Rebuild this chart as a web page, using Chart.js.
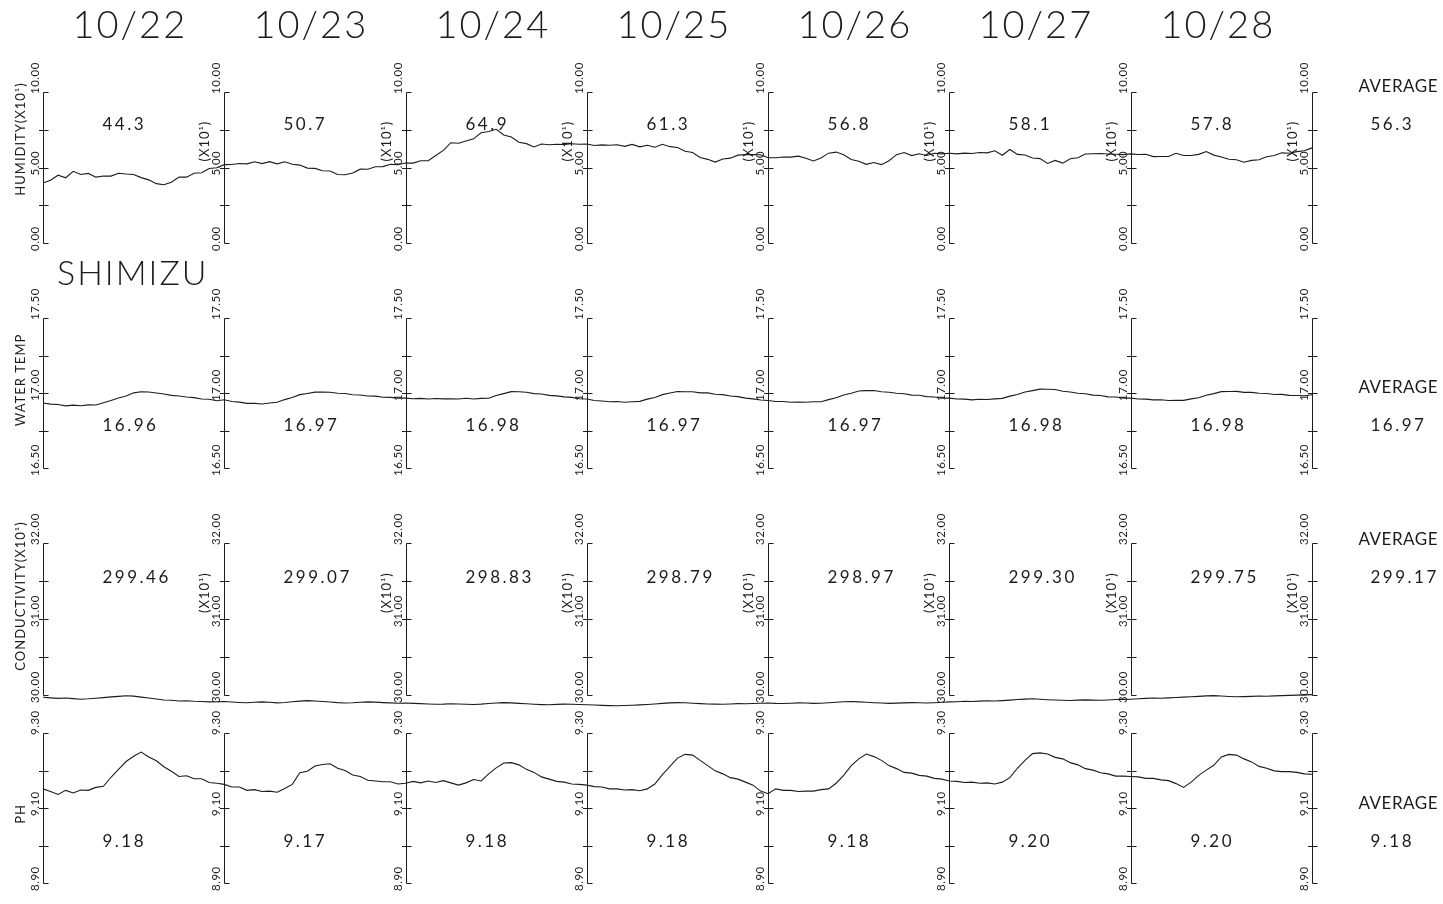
<!DOCTYPE html>
<html>
<head>
<meta charset="utf-8">
<script src="https://cdn.jsdelivr.net/npm/chart.js@4.4.1/dist/chart.umd.min.js"></script>
<style>
  html, body { margin: 0; padding: 0; background: #fff; overflow: hidden; }
  canvas { display: block; }
</style>
</head>
<body>
<canvas id="myChart" width="1443" height="904"></canvas>
<script>
// one day = 24 hourly readings, 7 days
const dates = ["10/22", "10/23", "10/24", "10/25", "10/26", "10/27", "10/28"];
const station = "SHIMIZU";

const humidity = [
  39.8, 41.6, 44.9, 43.2, 47.5, 45.4, 46.1, 43.6, 44.4, 44.3, 46.2, 45.7, 45.4, 43.3, 41.8, 39.3, 38.6, 40.2, 43.7, 43.6, 46.2, 46.5, 49.3, 49.8,
  51.9, 52.0, 52.6, 52.4, 53.8, 52.6, 53.9, 52.4, 53.8, 52.1, 51.6, 49.6, 49.4, 47.8, 47.7, 45.4, 45.2, 46.4, 48.9, 48.8, 50.5, 50.6, 52.1, 51.8,
  53.0, 52.9, 54.5, 54.5, 57.9, 61.3, 66.4, 66.1, 67.6, 69.0, 73.0, 73.8, 75.3, 71.5, 70.2, 66.7, 65.8, 63.6, 65.6, 65.1, 65.4, 65.2, 65.7, 65.4,
  65.6, 64.6, 65.0, 64.7, 65.1, 64.0, 65.3, 63.7, 64.7, 63.4, 65.4, 63.8, 63.2, 60.8, 59.9, 56.6, 55.4, 53.6, 55.6, 56.2, 58.2, 58.5, 58.6, 58.4,
  56.5, 56.5, 57.0, 56.9, 57.5, 56.1, 54.3, 56.3, 59.5, 60.2, 58.5, 55.3, 54.1, 52.1, 53.3, 51.9, 54.5, 58.5, 59.9, 57.9, 59.1, 58.0, 59.4, 59.0,
  59.4, 59.0, 59.5, 59.3, 59.9, 59.7, 61.1, 58.1, 61.9, 58.7, 58.3, 56.3, 55.9, 52.7, 54.7, 52.9, 55.8, 56.5, 58.9, 59.1, 59.3, 58.9, 58.8, 58.5,
  59.0, 58.6, 58.8, 57.2, 57.3, 57.3, 59.4, 57.9, 57.9, 58.7, 60.6, 58.2, 57.0, 55.5, 55.1, 53.5, 54.7, 55.1, 57.1, 57.9, 59.7, 59.4, 60.5, 61.1, 63.0
];

const waterTemp = [
  16.933, 16.926, 16.923, 16.914, 16.919, 16.915, 16.921, 16.920, 16.935, 16.950, 16.967, 16.980, 17.001, 17.008, 17.007, 17.000, 16.993, 16.984, 16.980, 16.973, 16.969, 16.960, 16.958, 16.948,
  16.955, 16.943, 16.939, 16.931, 16.931, 16.927, 16.933, 16.938, 16.956, 16.970, 16.989, 16.997, 17.006, 17.006, 17.005, 16.998, 16.997, 16.988, 16.987, 16.980, 16.979, 16.972, 16.971, 16.966,
  16.966, 16.962, 16.964, 16.960, 16.963, 16.961, 16.962, 16.960, 16.965, 16.960, 16.964, 16.965, 16.983, 16.996, 17.009, 17.008, 17.005, 16.996, 16.993, 16.984, 16.981, 16.974, 16.971, 16.962,
  16.960, 16.950, 16.947, 16.942, 16.943, 16.938, 16.942, 16.944, 16.959, 16.970, 16.989, 17.000, 17.010, 17.008, 17.008, 17.001, 17.001, 16.992, 16.989, 16.980, 16.976, 16.966, 16.961, 16.953,
  16.950, 16.943, 16.943, 16.938, 16.940, 16.938, 16.942, 16.942, 16.956, 16.968, 16.987, 16.998, 17.013, 17.016, 17.017, 17.008, 17.005, 16.998, 16.995, 16.986, 16.985, 16.976, 16.973, 16.966,
  16.966, 16.960, 16.959, 16.954, 16.958, 16.957, 16.961, 16.964, 16.979, 16.990, 17.007, 17.016, 17.026, 17.025, 17.023, 17.012, 17.007, 16.998, 16.995, 16.986, 16.983, 16.974, 16.973, 16.966,
  16.966, 16.960, 16.959, 16.954, 16.955, 16.950, 16.952, 16.951, 16.961, 16.968, 16.985, 16.996, 17.009, 17.010, 17.011, 17.004, 17.004, 16.998, 16.997, 16.990, 16.991, 16.984, 16.983, 16.982, 16.988
];

const conductivity = [
  299.70, 299.62, 299.55, 299.60, 299.52, 299.45, 299.50, 299.58, 299.66, 299.75, 299.82, 299.90, 299.85, 299.72, 299.60, 299.48, 299.35, 299.30, 299.22, 299.25, 299.18, 299.15, 299.10, 299.12,
  299.15, 299.08, 299.02, 298.98, 299.05, 299.10, 299.04, 298.97, 299.02, 299.12, 299.20, 299.26, 299.22, 299.15, 299.08, 299.00, 298.95, 298.98, 299.04, 299.10, 299.06, 299.00, 298.96, 298.92,
  298.95, 298.90, 298.86, 298.82, 298.78, 298.80, 298.85, 298.82, 298.78, 298.75, 298.80, 298.88, 298.95, 299.00, 298.96, 298.90, 298.84, 298.78, 298.74, 298.72, 298.76, 298.80, 298.78, 298.75,
  298.72, 298.68, 298.64, 298.60, 298.58, 298.62, 298.66, 298.70, 298.75, 298.82, 298.90, 298.96, 299.00, 298.98, 298.92, 298.86, 298.82, 298.80, 298.78, 298.82, 298.86, 298.84, 298.88, 298.92,
  298.95, 298.90, 298.88, 298.92, 298.96, 298.94, 298.90, 298.92, 298.98, 299.05, 299.12, 299.15, 299.10, 299.04, 298.98, 298.94, 298.90, 298.93, 298.97, 299.00, 298.98, 298.95, 298.99, 299.04,
  299.10, 299.12, 299.18, 299.15, 299.20, 299.24, 299.22, 299.26, 299.32, 299.40, 299.46, 299.50, 299.44, 299.38, 299.34, 299.30, 299.28, 299.32, 299.36, 299.33, 299.30, 299.35, 299.40, 299.42,
  299.45, 299.50, 299.56, 299.60, 299.58, 299.62, 299.68, 299.72, 299.76, 299.82, 299.88, 299.92, 299.86, 299.80, 299.76, 299.78, 299.82, 299.86, 299.84, 299.88, 299.92, 299.95, 299.98, 300.02, 300.05
];

const ph = [
  9.151, 9.144, 9.136, 9.147, 9.140, 9.148, 9.147, 9.155, 9.158, 9.182, 9.203, 9.224, 9.238, 9.249, 9.236, 9.226, 9.210, 9.198, 9.184, 9.186, 9.178, 9.178, 9.168, 9.166,
  9.163, 9.156, 9.156, 9.147, 9.149, 9.144, 9.145, 9.142, 9.152, 9.163, 9.194, 9.198, 9.212, 9.216, 9.218, 9.206, 9.200, 9.188, 9.184, 9.174, 9.172, 9.170, 9.170, 9.164,
  9.166, 9.171, 9.167, 9.172, 9.168, 9.173, 9.167, 9.161, 9.167, 9.176, 9.172, 9.191, 9.207, 9.220, 9.221, 9.215, 9.203, 9.195, 9.183, 9.177, 9.171, 9.169, 9.164, 9.163,
  9.161, 9.157, 9.156, 9.151, 9.151, 9.148, 9.149, 9.146, 9.151, 9.164, 9.189, 9.211, 9.233, 9.243, 9.241, 9.227, 9.213, 9.199, 9.191, 9.181, 9.177, 9.169, 9.161, 9.145,
  9.138, 9.151, 9.147, 9.147, 9.144, 9.145, 9.145, 9.149, 9.151, 9.166, 9.187, 9.213, 9.231, 9.244, 9.237, 9.227, 9.213, 9.205, 9.195, 9.193, 9.187, 9.185, 9.179, 9.177,
  9.172, 9.171, 9.168, 9.169, 9.166, 9.167, 9.164, 9.169, 9.181, 9.206, 9.227, 9.245, 9.247, 9.244, 9.235, 9.231, 9.221, 9.215, 9.205, 9.201, 9.194, 9.191, 9.185, 9.185,
  9.184, 9.183, 9.179, 9.179, 9.175, 9.173, 9.165, 9.155, 9.169, 9.187, 9.201, 9.214, 9.236, 9.243, 9.241, 9.231, 9.223, 9.211, 9.206, 9.199, 9.197, 9.197, 9.195, 9.191, 9.190
];

// daily averages printed in each day column, and the week average
const humidityAvg = [44.3, 50.7, 64.9, 61.3, 56.8, 58.1, 57.8];
const waterTempAvg = [16.96, 16.97, 16.98, 16.97, 16.97, 16.98, 16.98];
const conductivityAvg = [299.46, 299.07, 298.83, 298.79, 298.97, 299.30, 299.75];
const phAvg = [9.18, 9.17, 9.18, 9.18, 9.18, 9.20, 9.20];
const humidityAll = 56.3, waterTempAll = 16.97, conductivityAll = 299.17, phAll = 9.18;

// axis ticks (humidity and conductivity axes are printed x10^1)
const humidityTicks = [0, 25, 50, 75, 100];
const humidityTickLabels = ["0.00", "", "5.00", "", "10.00"];
const waterTempTicks = [16.5, 16.75, 17.0, 17.25, 17.5];
const waterTempTickLabels = ["16.50", "", "17.00", "", "17.50"];
const conductivityTicks = [300, 305, 310, 315, 320];
const conductivityTickLabels = ["30.00", "", "31.00", "", "32.00"];
const phTicks = [8.9, 9.0, 9.1, 9.2, 9.3];
const phTickLabels = ["8.90", "", "9.10", "", "9.30"];

const hours = humidity.map((_, i) => i);

const FONT = "Lato, 'DejaVu Sans', sans-serif";
const INK = "#1c1c1c";
const AREA_TOP = 92, AREA_BOTTOM = 883;

const panels = [
  { id: "yH", name: "HUMIDITY(X10¹)", nameY: 139, series: humidity, ticks: humidityTicks, tickLabels: humidityTickLabels,
    avgs: humidityAvg, all: humidityAll, digits: 1, top: 92, bottom: 243, avgY: 125, x10: true },
  { id: "yT", name: "WATER TEMP", nameY: 380, series: waterTemp, ticks: waterTempTicks, tickLabels: waterTempTickLabels,
    avgs: waterTempAvg, all: waterTempAll, digits: 2, top: 318, bottom: 468, avgY: 426, x10: false },
  { id: "yC", name: "CONDUCTIVITY(X10¹)", nameY: 596, series: conductivity, ticks: conductivityTicks, tickLabels: conductivityTickLabels,
    avgs: conductivityAvg, all: conductivityAll, digits: 2, top: 543, bottom: 695, avgY: 578, x10: true },
  { id: "yP", name: "PH", nameY: 814, series: ph, ticks: phTicks, tickLabels: phTickLabels,
    avgs: phAvg, all: phAll, digits: 2, top: 733, bottom: 883, avgY: 842, x10: false }
];

// each panel gets its own hidden y scale, stretched so its range sits in its band
const scales = { x: { type: "linear", min: 0, max: 24 * dates.length, display: false } };
panels.forEach(p => {
  const lo = p.ticks[0], hi = p.ticks[p.ticks.length - 1];
  const ppu = (p.bottom - p.top) / (hi - lo);
  scales[p.id] = {
    type: "linear", display: false, bounds: "data",
    min: lo - (AREA_BOTTOM - p.bottom) / ppu,
    max: hi + (p.top - AREA_TOP) / ppu
  };
});

function rotText(ctx, str, x, y, align) {
  ctx.save();
  ctx.translate(x, y);
  ctx.rotate(-Math.PI / 2);
  ctx.textAlign = align;
  ctx.textBaseline = "alphabetic";
  ctx.fillText(str, 0, 0);
  ctx.restore();
}

const plotter = {
  id: "plotter",
  afterDatasetsDraw(chart) {
    const ctx = chart.ctx;
    const xs = chart.scales.x;
    ctx.save();
    ctx.strokeStyle = INK;
    ctx.fillStyle = INK;
    ctx.lineWidth = 1;

    const axisX = [];
    for (let d = 0; d <= dates.length; d++) axisX.push(Math.round(xs.getPixelForValue(d * 24)) + 0.5);

    // dates across the top
    ctx.font = "300 38px " + FONT;
    ctx.letterSpacing = "2px";
    ctx.textAlign = "left";
    ctx.textBaseline = "middle";
    dates.forEach((d, i) => ctx.fillText(d, axisX[i] + 29, 26));

    ctx.font = "300 34px " + FONT;
    ctx.letterSpacing = "2px";
    ctx.fillText(station, 57, 274);

    panels.forEach(p => {
      const ys = chart.scales[p.id];
      const n = p.ticks.length;
      const yTop = Math.round(ys.getPixelForValue(p.ticks[n - 1])) + 0.5;
      const yBot = Math.round(ys.getPixelForValue(p.ticks[0])) + 0.5;

      axisX.forEach((x, a) => {
        ctx.beginPath();
        ctx.moveTo(x, yTop);
        ctx.lineTo(x, yBot);
        ctx.stroke();
        p.ticks.forEach((t, k) => {
          const y = Math.round(ys.getPixelForValue(t)) + 0.5;
          const end = k === 0 || k === n - 1;
          ctx.beginPath();
          ctx.moveTo(end ? x : x - 4.5, y);
          ctx.lineTo(x + 5, y);
          ctx.stroke();
        });

        ctx.font = "11.5px " + FONT;
        ctx.letterSpacing = "0.5px";
        p.ticks.forEach((t, k) => {
          if (!p.tickLabels[k]) return;
          const y = ys.getPixelForValue(t);
          rotText(ctx, p.tickLabels[k], x - 5, y + (k === n - 1 ? 2 : 8), "left");
        });

        if (a === 0) {
          ctx.font = "13px " + FONT;
          ctx.letterSpacing = "1px";
          rotText(ctx, p.name, 25, p.nameY, "center");
        } else if (p.x10) {
          ctx.font = "13px " + FONT;
          ctx.letterSpacing = "1px";
          rotText(ctx, "(X10¹)", x - 16, ys.getPixelForValue(p.ticks[2]) - 6, "left");
        }
      });

      // daily averages and week average
      ctx.font = "17px " + FONT;
      ctx.letterSpacing = "2.5px";
      ctx.textAlign = "left";
      ctx.textBaseline = "middle";
      p.avgs.forEach((v, i) => ctx.fillText(v.toFixed(p.digits), axisX[i] + 59, p.avgY));
      ctx.fillText(p.all.toFixed(p.digits), axisX[dates.length] + 58, p.avgY);
      ctx.letterSpacing = "0.5px";
      ctx.fillText("AVERAGE", axisX[dates.length] + 46, p.avgY - 38);
    });
    ctx.restore();
  }
};

const ctx = document.getElementById("myChart").getContext("2d");
const myChart = new Chart(ctx, {
  type: "line",
  data: {
    datasets: panels.map(p => ({
      data: p.series.map((v, i) => ({ x: hours[i], y: v })),
      yAxisID: p.id,
      borderColor: INK,
      borderWidth: 1.1,
      pointRadius: 0,
      tension: 0,
      fill: false,
      clip: false
    }))
  },
  options: {
    responsive: false,
    animation: false,
    devicePixelRatio: 1,
    events: [],
    layout: { padding: { left: 43, right: 131, top: 92, bottom: 21 } },
    plugins: { legend: { display: false }, tooltip: { enabled: false } },
    scales: scales
  },
  plugins: [plotter]
});
</script>
</body>
</html>
